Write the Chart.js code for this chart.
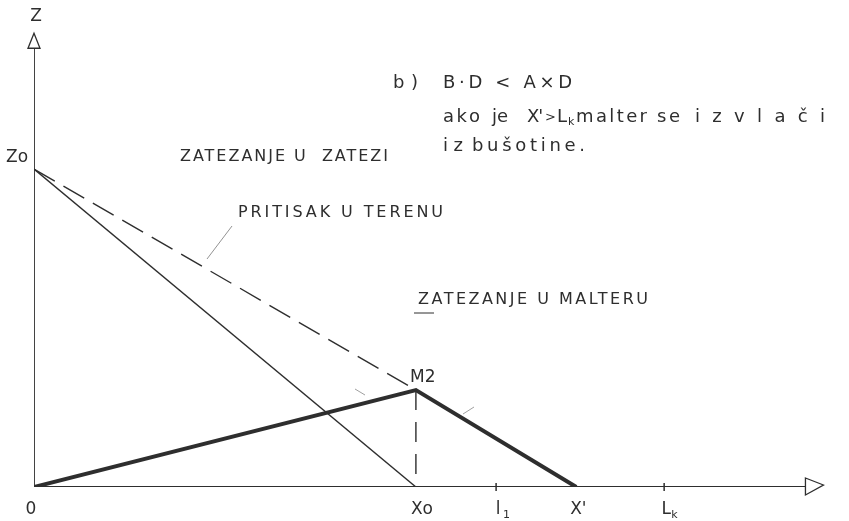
<!DOCTYPE html>
<html>
<head>
<meta charset="utf-8">
<script src="https://cdn.jsdelivr.net/npm/chart.js@4"></script>
<style>
  html, body { margin: 0; padding: 0; background: #fff; }
  #wrap { width: 849px; height: 521px; position: relative; }
</style>
</head>
<body>
<div id="wrap"><canvas id="chart"></canvas></div>
<script>
/* ─── Podaci (bezdimenzionalno: Xo = 1, Zo = 1) ───── */
const tickValues = [0, 1, 1.21, 1.42, 1.65];
const tickLabels = ['0', 'Xo', 'l', "X'", 'L'];
const tickSubs   = ['', '', '1', '', 'k'];

const zo = 1;          // pritisak na vrhu
const m2 = 0.305;      // tačka M2 (ordinata)
const xPrime = 1.42;   // X'

const zatezanjeZatezi = [{ x: 0, y: zo }, { x: 1, y: 0 }];
const pritisakTeren   = [{ x: 0, y: zo }, { x: 1, y: m2 }];
const zatezanjeMalter = [{ x: 0, y: 0 }, { x: 1, y: m2 }, { x: xPrime, y: 0 }];
const vertikalaXo     = [{ x: 1, y: m2 }, { x: 1, y: 0 }];
const osaX = [{ x: 0, y: 0 }, { x: 2.02, y: 0 }];
const osaZ = [{ x: 0, y: 0 }, { x: 0, y: 1.38 }];

const INK = '#2e2e2e';
const FONT = "'DejaVu Sans', sans-serif";

/* ─── Pomoćne funkcije za tekst ───────────────────── */
// razvuče tekst tako da se proteže od x0 do x1
function fitText(ctx, text, x0, x1, y, size) {
  ctx.font = size + 'px ' + FONT;
  ctx.letterSpacing = '0px';
  const w = ctx.measureText(text).width;
  const n = Math.max(text.length - 1, 1);
  ctx.letterSpacing = Math.max((x1 - x0 - w) / n, -1) + 'px';
  ctx.textAlign = 'left';
  ctx.fillText(text, x0, y);
  ctx.letterSpacing = '0px';
}

function plainText(ctx, text, x, y, size, align) {
  ctx.font = size + 'px ' + FONT;
  ctx.letterSpacing = '0px';
  ctx.textAlign = align || 'left';
  ctx.fillText(text, x, y);
}

/* ─── Plugin: strelice, oznake, natpisi ───────────── */
const drawingPlugin = {
  id: 'drawing',
  afterDatasetsDraw(chart) {
    const { ctx, scales: { x, y } } = chart;
    const px = v => x.getPixelForValue(v);
    const py = v => y.getPixelForValue(v);
    ctx.save();
    ctx.strokeStyle = INK;
    ctx.fillStyle = INK;
    ctx.textBaseline = 'middle';

    // strelica Z ose
    const zTop = py(osaZ[1].y);
    ctx.lineWidth = 1.3;
    ctx.beginPath();
    ctx.moveTo(px(0) - 6, zTop);
    ctx.lineTo(px(0), zTop - 15);
    ctx.lineTo(px(0) + 6, zTop);
    ctx.closePath();
    ctx.stroke();

    // strelica X ose
    const xEnd = px(osaX[1].x);
    ctx.beginPath();
    ctx.moveTo(xEnd, py(0) - 9);
    ctx.lineTo(xEnd + 18, py(0) - 2);
    ctx.lineTo(xEnd, py(0) + 8);
    ctx.closePath();
    ctx.stroke();

    // crtice na X osi
    ctx.lineWidth = 1.5;
    [tickValues[2], tickValues[4]].forEach(v => {
      ctx.beginPath();
      ctx.moveTo(px(v), py(0) - 4);
      ctx.lineTo(px(v), py(0) + 4);
      ctx.stroke();
    });

    // oznake ispod X ose
    tickValues.forEach((v, i) => {
      plainText(ctx, tickLabels[i], px(v) + (i === 1 ? 6 : i === 0 ? -3 : 2), 510, 17, 'center');
      if (tickSubs[i]) plainText(ctx, tickSubs[i], px(v) + 7, 515, 11);
    });

    // osa Z, Zo i M2
    plainText(ctx, 'Z', px(0) + 2, 17, 17, 'center');
    plainText(ctx, 'Zo', 6, py(zo) - 11, 17);
    plainText(ctx, 'M2', 410, py(m2) - 12, 17);

    // natpisi
    fitText(ctx, 'ZATEZANJE U  ZATEZI', 180, 388, 157, 16);
    fitText(ctx, 'PRITISAK U TERENU', 238, 443, 213, 16);
    fitText(ctx, 'ZATEZANJE U MALTERU', 418, 648, 300, 16);

    fitText(ctx, 'b )', 393, 418, 83, 18);
    fitText(ctx, 'B·D < A×D', 443, 572, 83, 18);

    fitText(ctx, 'ako', 443, 480, 117, 18);
    fitText(ctx, 'je', 492, 508, 117, 18);
    fitText(ctx, "X'", 527, 541, 117, 18);
    plainText(ctx, '>', 545, 118, 13);
    plainText(ctx, 'L', 557, 117, 18);
    plainText(ctx, 'k', 568, 122, 11);
    fitText(ctx, 'malter', 576, 647, 117, 18);
    fitText(ctx, 'se', 657, 680, 117, 18);
    fitText(ctx, 'izvlači', 695, 825, 117, 18);

    fitText(ctx, 'iz', 443, 463, 146, 18);
    fitText(ctx, 'bušotine.', 472, 585, 146, 18);

    // podvlaka ispod "ZATEZANJE U MALTERU"
    ctx.lineWidth = 1;
    ctx.beginPath();
    ctx.moveTo(414, 313);
    ctx.lineTo(434, 313);
    ctx.stroke();

    // pokazivač za "PRITISAK U TERENU"
    ctx.strokeStyle = '#777';
    ctx.lineWidth = 0.8;
    ctx.beginPath();
    ctx.moveTo(232, 226);
    ctx.lineTo(207, 259);
    ctx.stroke();

    // male strelice uz linije
    ctx.strokeStyle = '#888';
    ctx.beginPath();
    ctx.moveTo(355, 389);
    ctx.lineTo(365, 395);
    ctx.moveTo(463, 414);
    ctx.lineTo(474, 407);
    ctx.stroke();

    ctx.restore();
  },
};

const line = (data, width, dash) => ({
  data,
  borderColor: INK,
  borderWidth: width,
  borderDash: dash || [],
  pointRadius: 0,
  fill: false,
  tension: 0,
  borderCapStyle: 'butt',
});

new Chart(document.getElementById('chart'), {
  type: 'line',
  data: {
    datasets: [
      line(osaX, 1.8),
      line(osaZ, 1.8),
      line(zatezanjeZatezi, 1.4),
      line(pritisakTeren, 1.4, [24, 10]),
      line(vertikalaXo, 1.4, [20, 12]),
      line(zatezanjeMalter, 4),
    ],
  },
  options: {
    responsive: true,
    maintainAspectRatio: false,
    animation: false,
    layout: { padding: { left: 34, right: 13, top: 26, bottom: 34 } },
    plugins: { legend: { display: false }, tooltip: { enabled: false } },
    scales: {
      x: { type: 'linear', min: 0, max: 2.1, display: false },
      y: { type: 'linear', min: 0, max: 1.45, display: false },
    },
  },
  plugins: [drawingPlugin],
});
</script>
</body>
</html>
